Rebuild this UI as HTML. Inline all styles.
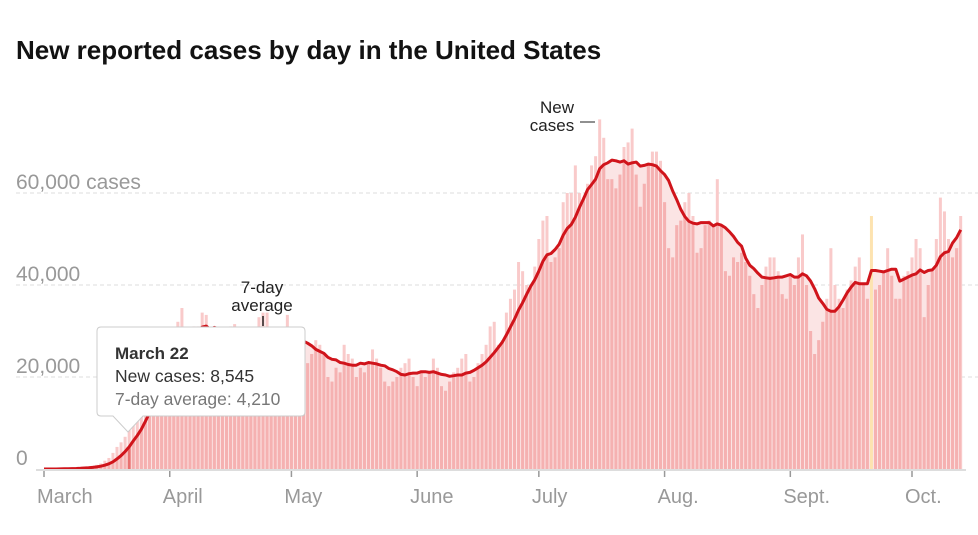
<!DOCTYPE html>
<html><head><meta charset="utf-8"><style>
body{margin:0;background:#fff;width:978px;height:535px;overflow:hidden;font-family:"Liberation Sans",sans-serif}
svg{position:absolute;left:0;top:0}
</style></head><body>
<svg width="978" height="535">
<text x="16" y="59" font-size="26" font-weight="bold" fill="#121212">New reported cases by day in the United States</text>
<g id="grid"></g><g id="plot"></g><g id="axis"></g>
<g>
<text x="262" y="293" font-size="17" fill="#222" text-anchor="middle">7-day</text>
<text x="262" y="311" font-size="17" fill="#222" text-anchor="middle">average</text>
<line x1="263" y1="316" x2="263" y2="326" stroke="#222" stroke-width="1.5"/>
</g>
<g>
<text x="557" y="113" font-size="17" fill="#222" text-anchor="middle">New</text>
<text x="552" y="131" font-size="17" fill="#222" text-anchor="middle">cases</text>
<line x1="580" y1="122" x2="595" y2="122" stroke="#222" stroke-width="1"/>
</g>
<g>
<path d="M101,327 H301 Q305,327 305,331 V412 Q305,416 301,416 H143 L128,432 L113,416 H101 Q97,416 97,412 V331 Q97,327 101,327 Z" fill="#fff" stroke="#ccc" stroke-width="1"/>
<text x="115" y="359" font-size="17" font-weight="bold" fill="#333">March 22</text>
<text x="115" y="382" font-size="17.5" fill="#333">New cases: 8,545</text>
<text x="115" y="405" font-size="17.5" fill="#777">7-day average: 4,210</text>
</g>
</svg>
<script>
const yTicks=[0,20000,40000,60000];
const yTickLabels=["0","20,000","40,000","60,000 cases"];
const months=["March","April","May","June","July","Aug.","Sept.","Oct."];
const monthStartDays=[0,31,61,92,122,153,184,214];
const daily=[
0,0,0,0,100,100,150,200,250,300,400,500,700,900,1200,1800,2400,3500,4800,5800,7000,8545,10500,10800,13000,17000,18500,19500,19000,21000,25000,
26000,29000,32000,35000,25000,28000,31000,31000,34000,33500,30000,28000,26000,27000,29000,31000,31500,28000,26000,27000,26000,28000,33000,34000,34000,26000,24000,26000,29000,33500,
30000,28000,26000,22000,23000,25000,28000,27000,25000,20000,19000,22000,21000,27000,25000,24000,20000,22000,21000,23000,26000,24000,22000,19000,18000,19000,20000,22000,23000,24000,20000,
18000,21000,20000,21000,24000,22000,18000,17000,19000,21000,22000,24000,25000,19000,20000,23000,25000,27000,31000,32000,27000,28000,34000,37000,39000,45000,43000,40000,40000,44000,
50000,54000,55000,45000,46000,48000,58000,60000,60000,66000,60000,59000,62000,66000,68000,76000,72000,63000,63000,61000,64000,70000,71000,74000,64000,57000,62000,66000,69000,69000,67000,
58000,48000,46000,53000,54000,58000,60000,55000,47000,48000,53000,54000,53000,63000,53000,43000,42000,46000,45000,47000,45000,42000,38000,35000,40000,44000,46000,46000,43000,38000,37000,
42000,40000,46000,51000,40000,30000,25000,28000,32000,37000,48000,40000,37000,35000,39000,41000,44000,46000,40000,37000,55000,39000,40000,43000,48000,42000,37000,37000,42000,43000,
46000,50000,48000,33000,40000,43000,50000,59000,56000,50000,46000,48000,55000];
const highlightDay=21, markedDay=204;
const x0=44,pxDay=(912-44)/214,yBase=469,pxUnit=92/20000;
const X=d=>x0+d*pxDay, Y=v=>yBase-v*pxUnit;
const NS="http://www.w3.org/2000/svg";
function mk(t,a,p){const e=document.createElementNS(NS,t);for(const k in a)e.setAttribute(k,a[k]);p.appendChild(e);return e;}
const grid=document.getElementById('grid'),plot=document.getElementById('plot'),axis=document.getElementById('axis');
yTicks.forEach((v,i)=>{
 if(v>0){const l=mk('line',{x1:16,x2:978,y1:Y(v),y2:Y(v),stroke:'#ddd','stroke-dasharray':'4,3'},grid);
 
 }
 const t=mk('text',{x:16,y:Y(v)-4,'font-size':21,fill:'#999'},grid);t.textContent=yTickLabels[i];
 
 
});
const avg=daily.map((v,i)=>{let s=0,n=0;for(let j=Math.max(0,i-6);j<=i;j++){s+=daily[j];n++;}return s/n;});
let lp='',ap='M'+X(0)+','+yBase;
avg.forEach((v,i)=>{lp+=(i?'L':'M')+X(i).toFixed(1)+','+Y(v).toFixed(1);ap+='L'+X(i).toFixed(1)+','+Y(v).toFixed(1);});
ap+='L'+X(daily.length-1)+','+yBase+'Z';
const defs=mk('defs',{},plot);const cp=mk('clipPath',{id:'under'},defs);mk('path',{d:ap},cp);
const area=mk('path',{d:ap,fill:'#fbe4e4'},plot);


const gl=mk('g',{},plot),gd=mk('g',{'clip-path':'url(#under)'},plot);
daily.forEach((v,i)=>{
 const fill=i==markedDay?'#fde3b0':'#f9caca';
 const b=mk('rect',{x:X(i)-1.5,y:Y(v),width:3,height:yBase-Y(v),fill:fill},gl);
 
 
 if(i!=markedDay){const d=mk('rect',{x:X(i)-1.5,y:Y(v),width:3,height:yBase-Y(v),fill:i==highlightDay?'#e8706f':'#f5b1b1'},gd);
 
 }
});
const ln=mk('path',{d:lp,fill:'none',stroke:'#d0141b','stroke-width':3,'stroke-linejoin':'round'},plot);


const base=mk('line',{x1:36,x2:966,y1:yBase+1,y2:yBase+1,stroke:'#ddd','stroke-width':2},axis);


months.forEach((m,i)=>{
 const x=X(monthStartDays[i]);
 const tk=mk('line',{x1:x,x2:x,y1:yBase+2,y2:yBase+8,stroke:'#999','stroke-width':1.5},axis);
 
 
 const t=mk('text',{x:x-7,y:503,'font-size':20,fill:'#999'},axis);t.textContent=m;
 
 
});
</script>
</body></html>
